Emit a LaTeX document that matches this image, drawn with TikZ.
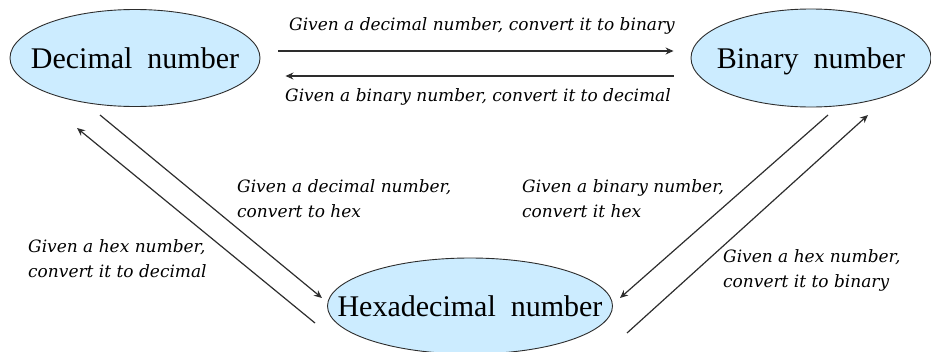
\documentclass[tikz,border=0pt]{standalone}
\usepackage{fontspec}
\setmainfont{Liberation Serif}
\newfontfamily\labfont{DejaVu Serif}
\usetikzlibrary{shapes.geometric,arrows.meta}
\definecolor{ellfill}{RGB}{204,236,255}
\definecolor{ink}{RGB}{45,45,45}
\tikzset{
  numnode/.style={ellipse, draw=ink, line width=0.9pt, fill=ellfill, inner sep=0pt,
    text height=20pt, text depth=0pt, font=\fontsize{30}{34}\selectfont},
  conv/.style={draw=ink, line width=1.2pt, -{Stealth[length=8pt,width=7pt]}},
  lab/.style={anchor=base west, inner sep=0pt, font=\labfont\itshape\fontsize{17}{25}\selectfont}
}
\begin{document}
\begin{tikzpicture}[x=1pt,y=-1pt]
\useasboundingbox (0,0) rectangle (931,351);
\clip (0,0) rectangle (931,351);
\node[numnode, minimum width=250pt, minimum height=97pt] (dec) at (135,58) {\makebox[0pt]{Decimal~~number}};
\node[numnode, minimum width=240pt, minimum height=98pt] (bin) at (811,58) {\makebox[0pt]{Binary~~number}};
\node[numnode, minimum width=285pt, minimum height=96pt] (hex) at (470,306) {\makebox[0pt]{Hexadecimal~~number}};
% free ends of the diagonal connectors
\coordinate (a1) at (100,115);
\coordinate (a2) at (322,298);
\coordinate (b1) at (315,323);
\coordinate (b2) at (77,128);
\coordinate (c1) at (828,115);
\coordinate (c2) at (620,298);
\coordinate (d1) at (627,333);
\coordinate (d2) at (868,115);
% horizontal connectors
\draw[conv, shorten <=18pt, shorten >=17pt] ([yshift=7pt]dec.east) -- ([yshift=7pt]bin.west);
\draw[conv, shorten <=17pt, shorten >=25pt] ([yshift=-18pt]bin.west) -- ([yshift=-18pt]dec.east);
% diagonal connectors
\draw[conv] (a1) -- (a2);
\draw[conv] (b1) -- (b2);
\draw[conv] (c1) -- (c2);
\draw[conv] (d1) -- (d2);
% labels
\node[lab] (l1) at (289,30) {Given a decimal number, convert it to binary};
\node[lab] (l2) at (285,101) {Given a binary number, convert it to decimal};
\node[lab] (l3) at (237,192) {\begin{tabular}[t]{@{}l@{}}Given a decimal number,\\ convert to hex\end{tabular}};
\node[lab] (l4) at (28,252) {\begin{tabular}[t]{@{}l@{}}Given a hex number,\\ convert it to decimal\end{tabular}};
\node[lab] (l5) at (522,192) {\begin{tabular}[t]{@{}l@{}}Given a binary number,\\ convert it hex\end{tabular}};
\node[lab] (l6) at (723,262) {\begin{tabular}[t]{@{}l@{}}Given a hex number,\\ convert it to binary\end{tabular}};
\end{tikzpicture}
\end{document}
